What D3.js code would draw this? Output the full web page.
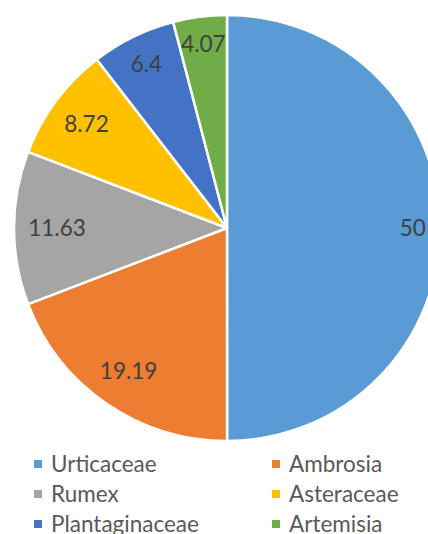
<!DOCTYPE html>
<html>
<head>
<meta charset="utf-8">
<title>Pie</title>
<script src="https://d3js.org/d3.v7.min.js"></script>
<style>
  body { margin: 0; background: #fff; }
  svg { display: block; font-family: Lato, "Open Sans", sans-serif; }
</style>
</head>
<body>
<div id="chart"></div>
<script>
// data
var categories = ["Urticaceae", "Ambrosia", "Rumex", "Asteraceae", "Plantaginaceae", "Artemisia"];
var values = [50, 19.19, 11.63, 8.72, 6.4, 4.07];
var labels = ["50", "19.19", "11.63", "8.72", "6.4", "4.07"];
var colors = ["#5B9BD5", "#ED7D31", "#A5A5A5", "#FFC000", "#4472C4", "#70AD47"];

var width = 428, height = 534;
var cx = 227, cy = 228, radius = 213;

var svg = d3.select("#chart").append("svg")
    .attr("width", width)
    .attr("height", height);

var g = svg.append("g")
    .attr("transform", "translate(" + cx + "," + cy + ")");

var data = categories.map(function(c, i) { return {name: c, value: values[i], label: labels[i]}; });

var pie = d3.pie()
    .sort(null)
    .value(function(d) { return d.value; });

var arc = d3.arc().innerRadius(0).outerRadius(radius);
var color = d3.scaleOrdinal().domain(categories).range(colors);

var arcs = pie(data);

g.selectAll("path.slice")
    .data(arcs)
  .enter().append("path")
    .attr("class", "slice")
    .attr("d", arc)
    .attr("fill", function(d) { return color(d.data.name); })
    .attr("stroke", "#fff")
    .attr("stroke-width", 2.5)
    .attr("stroke-linejoin", "round");

// labels: "inside end", pushed out until the far corner of the text box reaches the edge
var edge = 199, boxH = 20;
var txt = g.selectAll("text.lbl")
    .data(arcs)
  .enter().append("text")
    .attr("class", "lbl")
    .attr("text-anchor", "middle")
    .attr("dy", "0.36em")
    .style("font-size", "22.5px")
    .style("fill", "#404040")
    .text(function(d) { return d.data.label; });

txt.each(function(d) {
  var w = this.getComputedTextLength();
  var a = (d.startAngle + d.endAngle) / 2;
  var ux = Math.sin(a), uy = -Math.cos(a);
  var lo = 0, hi = radius;
  for (var k = 0; k < 40; k++) {
    var r = (lo + hi) / 2;
    var px = ux * r, py = uy * r;
    var far = 0;
    [-1, 1].forEach(function(sx) {
      [-1, 1].forEach(function(sy) {
        var dx = px + sx * w / 2, dy = py + sy * boxH / 2;
        far = Math.max(far, Math.sqrt(dx * dx + dy * dy));
      });
    });
    if (far > edge) hi = r; else lo = r;
  }
  d3.select(this).attr("x", ux * lo).attr("y", uy * lo);
});

// legend, two columns
var legX = [34, 272], legY = [464, 494, 524];
var leg = svg.selectAll("g.leg")
    .data(categories)
  .enter().append("g")
    .attr("class", "leg")
    .attr("transform", function(d, i) { return "translate(" + legX[i % 2] + "," + legY[Math.floor(i / 2)] + ")"; });

leg.append("rect")
    .attr("x", 0).attr("y", -4)
    .attr("width", 8).attr("height", 8)
    .attr("fill", function(d) { return color(d); });

leg.append("text")
    .attr("x", 17)
    .attr("dy", "0.36em")
    .style("font-size", "22.5px")
    .style("fill", "#595959")
    .text(function(d) { return d; });
</script>
</body>
</html>
